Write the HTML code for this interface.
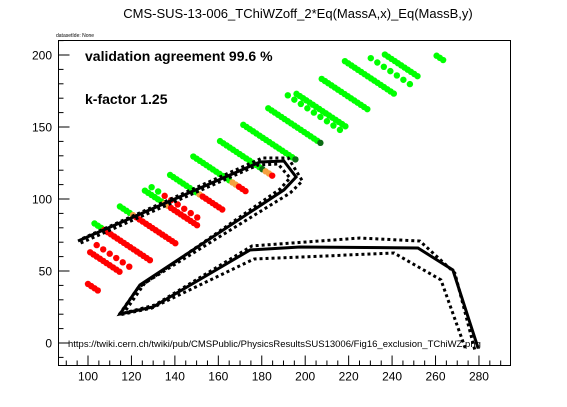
<!DOCTYPE html>
<html><head><meta charset="utf-8"><style>
html,body{margin:0;padding:0;background:#fff;width:567px;height:407px;overflow:hidden}
svg{display:block;font-family:"Liberation Sans",sans-serif}
</style></head><body>
<svg id="chart" width="567" height="407">
<text x="298" y="18" text-anchor="middle" font-size="13">CMS-SUS-13-006_TChiWZoff_2*Eq(MassA,x)_Eq(MassB,y)</text>
<text x="56" y="37" font-size="5">datasetIde: None</text>
<rect x="58.5" y="40.5" width="452" height="325" fill="none" stroke="#000" stroke-width="1"/>
<g id="marks"></g>
<g id="axes"></g>
<text x="85" y="61" font-size="14" font-weight="bold">validation agreement 99.6 %</text>
<text x="85" y="104" font-size="14" font-weight="bold">k-factor 1.25</text>
<text x="68" y="347" font-size="9.5">https://twiki.cern.ch/twiki/pub/CMSPublic/PhysicsResultsSUS13006/Fig16_exclusion_TChiWZ.png</text>
</svg>
<script>
// rows of mass points: constant sum x+y
const rowSum =      [186, 172, 164, 141, 209.5, 232, 237.5, 254.5, 278, 301, 323, 346, 364, 369, 391, 414, 428, 437, 460];
const rowStart =    [103, 104, 101, 100, 114.7, 126.2, 129.3, 137.8, 148.5, 160.8, 171.5, 183, 192, 196, 207.6, 218.3, 230.2, 236.7, 260.5];
const rowEnd =      [128.5, 119.3, 115.5, 104.7, 140.8, 151.6, 151.1, 162.3, 173.8, 185.3, 196.1, 207.6, 216.8, 219.1, 229.8, 241.3, 248.3, 252.9, 264.4];
const rowStep =     [1.5, 3, 1.5, 1.5, 1.5, 1.5, 3, 1.5, 1.5, 1.5, 1.5, 1.5, 3, 1.5, 1.5, 1.5, 3, 1.5, 1.5];
const rowGreenEnd = [106, 0, 0, 0, 119.5, 135, 135, 150, 165.5, 180, 194.5, 206, 300, 300, 300, 300, 300, 300, 300];
const rowDarkEnd =  [106, 0, 0, 0, 119.5, 135, 135, 150, 165.5, 181.5, 300, 300, 300, 300, 300, 300, 300, 300, 300];
const rowOrangeEnd =[106, 0, 0, 0, 121.5, 137, 135, 152.5, 168, 184, 300, 300, 300, 300, 300, 300, 300, 300, 300];

const solidX = [95.4,179.2,190.2,195.8,190.2,123.9,114.7,129.9,174.6,197.6,251.9,268,279.6];
const solidY = [70.8,125.7,126.4,115.3,106.3,40.3,20.1,25,64.6,66.7,66,50.7,-3.5];
const dotAX = [97.5,180.3,192.2,198.7,193.1,126.2,116.5,130.8,175.5,225.2,252.8,268.9,278.1];
const dotAY = [72.6,128.5,128.5,112.5,104.2,41.7,20.8,26.4,67.4,72.9,70.8,48.6,-4.9];
const dotBX = [96.6,178.3,187.5,193,188.4,123,114.2,129.4,176.4,240.9,262.5,274];
const dotBY = [69.4,123.6,124.3,114.6,106.9,38.2,19.4,24.3,58.3,62.5,43.8,-4.9];

const xTicks = [100,120,140,160,180,200,220,240,260,280];
const yTicks = [0,50,100,150,200];

const L=58.5,R=510.5,T=40.5,B=365.5;
const sx = v => 88 + (v-100)*2.172;
const sy = v => 343 - v*1.44;
const NS='http://www.w3.org/2000/svg';
const marks=document.getElementById('marks'), axes=document.getElementById('axes');
function mk(tag,attrs,parent){const e=document.createElementNS(NS,tag);for(const k in attrs)e.setAttribute(k,attrs[k]);parent.appendChild(e);return e;}

for(let r=0;r<rowSum.length;r++){
  for(let x=rowStart[r]; x<=rowEnd[r]+0.01; x+=rowStep[r]){
    let c='#ff0000';
    if(x<=rowGreenEnd[r]) c='#00ff00';
    else if(x<=rowDarkEnd[r]) c='#0b6b14';
    else if(x<=rowOrangeEnd[r]) c='#f5a040';
    const d=mk('circle',{cx:sx(x),cy:sy(rowSum[r]-x),r:3.2,fill:c},marks);
    
    
  }
}
function line(xs,ys,name,dash,w){
  const p=mk('polyline',{points:xs.map((x,i)=>sx(x)+','+sy(ys[i])).join(' '),fill:'none',stroke:'#000','stroke-width':w,'stroke-dasharray':dash},marks);
  
  
}
line(dotAX,dotAY,'exclusion-plus-sigma','3 3',3);
line(dotBX,dotBY,'exclusion-minus-sigma','3 3',3);
line(solidX,solidY,'exclusion-expected','none',3);

for(let v=90; v<=290; v+=5){
  const x=sx(v); if(x<L||x>R) continue;
  const major = xTicks.includes(v);
  mk('line',{x1:x,x2:x,y1:B,y2:B-(major?10:5),stroke:'#000'},axes);
}
xTicks.forEach(v=>{
  const t=mk('text',{x:sx(v),y:B+15,'text-anchor':'middle','font-size':12},axes);
  t.textContent=v;
  
  
});
for(let v=-10; v<=210; v+=10){
  const y=sy(v); if(y<T||y>B) continue;
  const major = yTicks.includes(v);
  mk('line',{x1:L,x2:L+(major?11:5),y1:y,y2:y,stroke:'#000'},axes);
}
yTicks.forEach(v=>{
  const t=mk('text',{x:52,y:sy(v)+4.5,'text-anchor':'end','font-size':12},axes);
  t.textContent=v;
  
  
});
</script>
</body></html>
